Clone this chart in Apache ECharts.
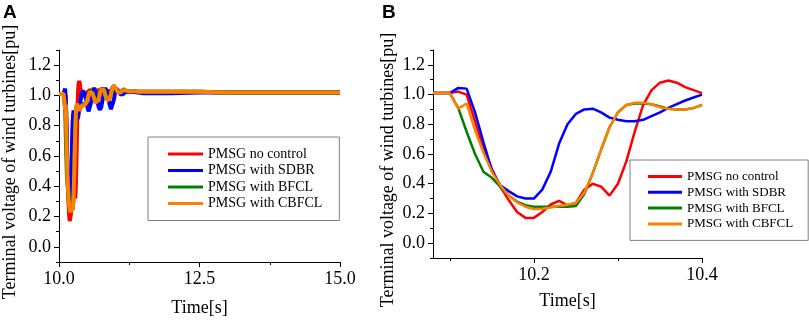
<!DOCTYPE html>
<html>
<head>
<meta charset="utf-8">
<script src="https://cdn.jsdelivr.net/npm/echarts@6/dist/echarts.min.js"></script>
<style>
  html, body { margin: 0; padding: 0; background: #fff; }
  #chart { width: 809px; height: 322px; }
</style>
</head>
<body>
<div id="chart"></div>
<script>
// zoomed window (panel B), 0.01 s steps
const timeB = [10.08, 10.09, 10.10, 10.11, 10.12, 10.13, 10.14, 10.15, 10.16, 10.17, 10.18,
  10.19, 10.20, 10.21, 10.22, 10.23, 10.24, 10.25, 10.26, 10.27, 10.28, 10.29,
  10.30, 10.31, 10.32, 10.33, 10.34, 10.35, 10.36, 10.37, 10.38, 10.39, 10.40]
const redB = [1.01, 1.01, 1.01, 1.02, 1.00, 0.82, 0.64, 0.50, 0.38, 0.29, 0.21,
  0.17, 0.17, 0.21, 0.26, 0.285, 0.255, 0.27, 0.36, 0.40, 0.38, 0.32,
  0.40, 0.55, 0.75, 0.93, 1.03, 1.08, 1.095, 1.08, 1.05, 1.03, 1.01]
const blueB = [1.01, 1.01, 1.01, 1.045, 1.04, 0.88, 0.68, 0.49, 0.39, 0.35, 0.315,
  0.30, 0.30, 0.36, 0.48, 0.67, 0.80, 0.87, 0.90, 0.905, 0.88, 0.845,
  0.83, 0.82, 0.82, 0.83, 0.855, 0.88, 0.91, 0.935, 0.96, 0.98, 1.00]
const greenB = [1.01, 1.01, 1.01, 0.91, 0.75, 0.60, 0.48, 0.44, 0.38, 0.32, 0.28,
  0.255, 0.245, 0.245, 0.245, 0.245, 0.245, 0.25, 0.33, 0.47, 0.63, 0.78,
  0.88, 0.93, 0.94, 0.94, 0.935, 0.92, 0.905, 0.90, 0.90, 0.91, 0.93]
const orangeB = [1.01, 1.01, 1.01, 0.905, 0.94, 0.76, 0.61, 0.48, 0.39, 0.32, 0.275,
  0.245, 0.23, 0.232, 0.24, 0.25, 0.258, 0.27, 0.34, 0.47, 0.63, 0.78,
  0.88, 0.93, 0.945, 0.945, 0.935, 0.915, 0.905, 0.90, 0.90, 0.91, 0.93]

// rest of the full run (panel A)
const timeStart = [10.0]
const startV = [1.01]
const timeTail = [10.425, 10.45, 10.475, 10.5, 10.525, 10.55, 10.575, 10.6,
  10.625, 10.65, 10.675, 10.7, 10.725, 10.75, 10.775, 10.8,
  10.825, 10.85, 10.875, 10.9, 10.925, 10.95, 10.975, 11.0,
  11.025, 11.05, 11.075, 11.1, 11.125, 11.15, 11.175, 11.2,
  11.25, 11.3, 11.4, 11.5, 12, 12.5, 13, 13.5, 14, 14.5, 15]
const redTail = [1.0, 0.99, 1.0, 1.02, 1.03, 1.035, 1.035, 1.03,
  1.025, 1.03, 1.035, 1.035, 1.03, 1.025, 1.03, 1.035,
  1.035, 1.03, 1.025, 1.03, 1.035, 1.03, 1.025, 1.025,
  1.03, 1.03, 1.025, 1.025, 1.03, 1.03, 1.025, 1.025,
  1.025, 1.03, 1.025, 1.025, 1.025, 1.025, 1.02, 1.02, 1.02, 1.02, 1.02]
const blueTail = [1.03, 1.04, 1.00, 0.93, 0.895, 0.90, 0.96, 1.02,
  1.05, 1.04, 0.99, 0.93, 0.905, 0.92, 0.97, 1.02,
  1.05, 1.045, 1.0, 0.94, 0.91, 0.92, 0.97, 1.02,
  1.045, 1.04, 1.02, 1.005, 1.0, 1.01, 1.025, 1.03,
  1.02, 1.025, 1.02, 1.015, 1.015, 1.02, 1.02, 1.02, 1.02, 1.02, 1.02]
const greenTail = [0.945, 0.94, 0.94, 0.965, 1.005, 1.03, 1.035, 1.015,
  0.985, 0.955, 0.95, 0.975, 1.015, 1.045, 1.055, 1.04,
  1.005, 0.975, 0.965, 0.98, 1.015, 1.05, 1.065, 1.055,
  1.035, 1.02, 1.015, 1.025, 1.035, 1.04, 1.035, 1.03,
  1.025, 1.03, 1.025, 1.025, 1.025, 1.025, 1.02, 1.02, 1.02, 1.02, 1.02]
const orangeTail = [0.94, 0.935, 0.935, 0.96, 1.0, 1.025, 1.03, 1.01,
  0.98, 0.95, 0.945, 0.97, 1.01, 1.04, 1.05, 1.035,
  1.0, 0.97, 0.96, 0.975, 1.01, 1.045, 1.065, 1.06,
  1.04, 1.02, 1.015, 1.02, 1.035, 1.04, 1.035, 1.03,
  1.025, 1.03, 1.025, 1.025, 1.025, 1.025, 1.02, 1.02, 1.02, 1.02, 1.02]

const names = ['PMSG no control', 'PMSG with SDBR', 'PMSG with BFCL', 'PMSG with CBFCL']
const colors = ['#ff0000', '#0000ff', '#008000', '#ff8000']
const yLabels = [0, 0.2, 0.4, 0.6, 0.8, 1.0, 1.2]
const yMinor = [-0.1, 0.1, 0.3, 0.5, 0.7, 0.9, 1.1, 1.3]
const xLabelsB = [10.2, 10.4]
const xMinorB = [10.1, 10.3]

const timeA = [...timeStart, ...timeB, ...timeTail]
const seriesB = [redB, blueB, greenB, orangeB]
const seriesA = [
  [...startV, ...redB, ...redTail],
  [...startV, ...blueB, ...blueTail],
  [...startV, ...greenB, ...greenTail],
  [...startV, ...orangeB, ...orangeTail]
]

const zip = (xs, ys) => xs.map((x, i) => [x, ys[i]])

const serif = 'Liberation Serif'
const axisBase = {
  type: 'value',
  splitLine: { show: false },
  axisLine: { show: true, onZero: false, lineStyle: { color: '#000', width: 1 } },
  axisTick: { show: true, length: 5, lineStyle: { color: '#000' } },
  axisLabel: { color: '#000', fontFamily: serif, fontSize: 18, formatter: v => v.toFixed(1) },
  nameTextStyle: { color: '#000', fontFamily: serif, fontSize: 18 },
  nameLocation: 'middle'
}
// extra axis that only draws the short in-between ticks
const minorAxis = (grid, pos, min, max, vals) => ({
  type: 'value',
  gridIndex: grid,
  position: pos,
  min: min,
  max: max,
  splitLine: { show: false },
  axisLine: { show: false, onZero: false },
  axisLabel: { show: false },
  axisTick: { show: true, length: 3, customValues: vals, lineStyle: { color: '#000' } }
})

const chart = echarts.init(document.getElementById('chart'))
chart.setOption({
  animation: false,
  color: colors,
  title: [
    { text: 'A', left: 3, top: 3, padding: 0, textStyle: { fontFamily: 'Liberation Sans', fontWeight: 'bold', fontSize: 19, color: '#000' } },
    { text: 'B', left: 382, top: 3, padding: 0, textStyle: { fontFamily: 'Liberation Sans', fontWeight: 'bold', fontSize: 19, color: '#000' } }
  ],
  grid: [
    { left: 57, top: 50, width: 283, height: 220 },
    { left: 433, top: 50, width: 269, height: 208 }
  ],
  xAxis: [
    Object.assign({}, axisBase, {
      gridIndex: 0, position: 'bottom', min: 10, max: 15, interval: 2.5,
      minorTick: { show: true, splitNumber: 2, length: 3, lineStyle: { color: '#000' } },
      name: 'Time[s]', nameGap: 37
    }),
    Object.assign({}, axisBase, {
      gridIndex: 1, position: 'bottom', min: 10.08, max: 10.4,
      axisLabel: Object.assign({}, axisBase.axisLabel, { customValues: xLabelsB }),
      axisTick: Object.assign({}, axisBase.axisTick, { customValues: xLabelsB }),
      name: 'Time[s]', nameGap: 34
    }),
    minorAxis(1, 'bottom', 10.08, 10.4, xMinorB)
  ],
  yAxis: [
    Object.assign({}, axisBase, {
      gridIndex: 0, position: 'left', min: -0.1, max: 1.3,
      axisLabel: Object.assign({}, axisBase.axisLabel, { customValues: yLabels }),
      axisTick: Object.assign({}, axisBase.axisTick, { customValues: yLabels }),
      name: 'Terminal voltage of wind turbines[pu]', nameGap: 40,
      nameTextStyle: Object.assign({}, axisBase.nameTextStyle, { padding: [0, 12, 0, 0] })
    }),
    minorAxis(0, 'left', -0.1, 1.3, yMinor),
    Object.assign({}, axisBase, {
      gridIndex: 1, position: 'left', min: -0.1, max: 1.3,
      axisLabel: Object.assign({}, axisBase.axisLabel, { customValues: yLabels }),
      axisTick: Object.assign({}, axisBase.axisTick, { customValues: yLabels }),
      name: 'Terminal voltage of wind turbines[pu]', nameGap: 36,
      nameTextStyle: Object.assign({}, axisBase.nameTextStyle, { padding: [0, 32, 0, 0] })
    }),
    minorAxis(1, 'left', -0.1, 1.3, yMinor)
  ],
  legend: [
    {
      data: names, orient: 'vertical', left: 148, top: 137,
      padding: [10, 17, 10, 20], itemGap: 2.5, itemWidth: 35, itemHeight: 3, icon: 'rect',
      borderColor: '#808080', borderWidth: 1,
      textStyle: { fontFamily: serif, fontSize: 14, lineHeight: 14, color: '#000' }
    },
    {
      data: names, orient: 'vertical', left: 630, top: 160,
      padding: [10, 15, 10, 18], itemGap: 2.8, itemWidth: 34, itemHeight: 3, icon: 'rect',
      borderColor: '#808080', borderWidth: 1,
      textStyle: { fontFamily: serif, fontSize: 13, lineHeight: 13, color: '#000' }
    }
  ],
  series: [
    ...seriesA.map((vals, i) => ({
      name: names[i], type: 'line', xAxisIndex: 0, yAxisIndex: 0,
      data: zip(timeA, vals), showSymbol: false, symbol: 'none',
      lineStyle: { width: 4, color: colors[i] }
    })),
    ...seriesB.map((vals, i) => ({
      name: names[i], type: 'line', xAxisIndex: 1, yAxisIndex: 2,
      data: zip(timeB, vals), showSymbol: false, symbol: 'none',
      lineStyle: { width: 2.5, color: colors[i] }
    }))
  ]
})
</script>
</body>
</html>
